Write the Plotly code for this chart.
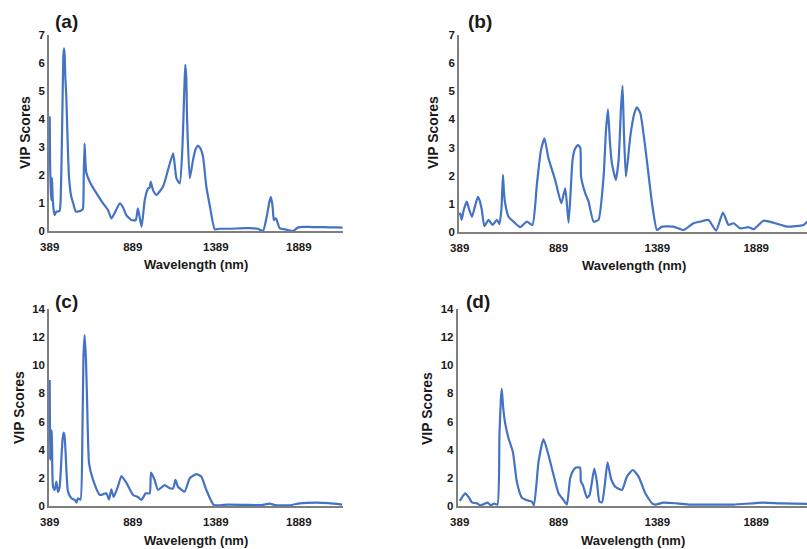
import plotly.graph_objects as go

# ---------------- data ----------------
wl_a = [389, 391, 393, 396, 399, 403, 406, 409, 413, 419, 429, 441, 449, 454, 460, 466, 471, 475,
        479, 483, 489, 497, 505, 519, 530, 546, 562, 580, 589, 594, 599, 604, 609, 630, 670, 710,
        740, 760, 785, 811, 830, 850, 881, 907, 920, 942, 961, 981, 991, 997, 1011, 1031, 1071,
        1101, 1132, 1152, 1172, 1188, 1199, 1205, 1211, 1216, 1232, 1252, 1266, 1281, 1296, 1312,
        1332, 1352, 1383, 1412, 1463, 1513, 1564, 1593, 1642, 1673, 1695, 1710, 1720, 1728, 1732,
        1738, 1746, 1754, 1773, 1814, 1854, 1882, 1914, 1968, 2019, 2070, 2120, 2152]
vip_a = [4.10, 2.60, 1.94, 1.40, 1.10, 1.90, 1.30, 1.00, 0.75, 0.57, 0.69, 0.70, 0.72, 1.00, 2.40,
         4.50, 6.20, 6.52, 6.30, 5.50, 4.80, 3.20, 1.94, 1.22, 1.00, 0.69, 0.70, 0.74, 0.80, 2.00,
         3.13, 2.50, 2.10, 1.76, 1.35, 0.99, 0.75, 0.45, 0.70, 0.99, 0.85, 0.57, 0.39, 0.39, 0.81,
         0.15, 1.10, 1.52, 1.55, 1.76, 1.46, 1.29, 1.58, 2.18, 2.77, 1.88, 1.70, 3.00, 5.00, 5.93,
         5.50, 4.00, 1.88, 2.54, 2.90, 3.04, 2.95, 2.65, 1.58, 0.93, 0.06, 0.08, 0.08, 0.09, 0.10,
         0.10, 0.08, 0.00, 0.50, 1.00, 1.22, 1.00, 0.80, 0.39, 0.45, 0.42, 0.10, 0.05, 0.00, 0.12,
         0.15, 0.14, 0.14, 0.13, 0.13, 0.12]

wl_b = [389, 392, 399, 410, 425, 437, 451, 466, 481, 491, 501, 514, 535, 555, 577, 590, 600, 608,
        613, 619, 636, 661, 695, 729, 757, 780, 800, 818, 838, 872, 903, 923, 940, 960, 972, 987,
        999, 1003, 1024, 1041, 1066, 1091, 1117, 1129, 1139, 1149, 1159, 1179, 1193, 1205, 1213,
        1220, 1230, 1252, 1272, 1286, 1303, 1328, 1362, 1387, 1412, 1471, 1521, 1572, 1606, 1648,
        1686, 1721, 1749, 1774, 1808, 1850, 1876, 1926, 1977, 2045, 2129, 2148]
vip_b = [0.60, 0.66, 0.43, 0.80, 1.08, 0.80, 0.54, 0.90, 1.25, 1.10, 0.78, 0.21, 0.43, 0.25, 0.43,
         0.28, 0.80, 2.03, 1.40, 1.02, 0.54, 0.37, 0.17, 0.37, 0.25, 1.73, 2.90, 3.33, 2.62, 1.85,
         1.02, 1.55, 0.33, 2.56, 2.95, 3.09, 3.00, 1.97, 1.38, 1.08, 0.37, 0.43, 1.97, 3.60, 4.36,
         3.20, 2.44, 1.85, 2.56, 4.40, 5.19, 3.50, 1.97, 3.39, 4.20, 4.43, 4.22, 3.00, 1.02, 0.07,
         0.19, 0.19, 0.07, 0.31, 0.37, 0.43, 0.05, 0.69, 0.25, 0.31, 0.13, 0.17, 0.10, 0.40, 0.33,
         0.19, 0.25, 0.37]

wl_c = [389, 390, 392, 395, 400, 405, 409, 419, 429, 439, 449, 460, 467, 473, 479, 485, 499, 520,
        540, 550, 559, 574, 586, 592, 599, 607, 614, 626, 650, 691, 730, 746, 760, 774, 800, 821,
        850, 891, 920, 941, 967, 991, 999, 1021, 1041, 1081, 1111, 1132, 1146, 1161, 1201, 1232,
        1272, 1302, 1332, 1377, 1462, 1563, 1664, 1713, 1746, 1834, 1895, 1995, 2069, 2149]
vip_c = [8.95, 6.50, 3.27, 5.40, 5.30, 2.50, 1.37, 1.14, 1.73, 1.00, 1.37, 3.50, 4.80, 5.21, 4.90,
         3.74, 1.02, 0.55, 0.43, 0.24, 0.55, 0.45, 5.17, 10.50, 12.15, 10.50, 7.53, 3.03, 1.85,
         0.78, 0.90, 0.45, 1.18, 0.64, 1.40, 2.13, 1.66, 0.78, 0.64, 0.43, 0.90, 0.90, 2.37, 1.85,
         1.14, 1.49, 1.26, 1.26, 1.85, 1.37, 1.02, 1.97, 2.27, 2.08, 1.14, 0.07, 0.10, 0.08, 0.06,
         0.17, 0.06, 0.05, 0.19, 0.24, 0.20, 0.10]

wl_d = [389, 405, 417, 433, 451, 476, 492, 509, 530, 547, 563, 580, 590, 597, 602, 609, 619, 636,
        658, 678, 704, 737, 754, 765, 788, 813, 838, 864, 889, 914, 931, 948, 965, 978, 998, 1002,
        1012, 1033, 1046, 1070, 1083, 1096, 1109, 1121, 1137, 1154, 1176, 1210, 1235, 1265, 1294,
        1328, 1362, 1378, 1420, 1488, 1556, 1690, 1774, 1926, 2019, 2148]
vip_d = [0.36, 0.70, 0.90, 0.66, 0.26, 0.19, 0.05, 0.12, 0.24, 0.05, 0.17, 0.10, 5.05, 7.50, 8.32,
         7.00, 5.88, 4.81, 3.86, 1.73, 0.59, 0.38, 0.31, 0.05, 3.15, 4.76, 3.62, 2.20, 0.90, 0.43,
         0.10, 1.97, 2.56, 2.73, 2.73, 1.73, 1.50, 0.59, 0.78, 2.65, 1.73, 0.31, 0.26, 1.25, 3.10,
         1.97, 1.37, 1.14, 2.09, 2.56, 2.09, 0.90, 0.19, 0.10, 0.24, 0.19, 0.10, 0.10, 0.10, 0.24,
         0.18, 0.15]

x_ticks = [389, 889, 1389, 1889]
y_ticks_top = [0, 1, 2, 3, 4, 5, 6, 7]
y_ticks_bottom = [0, 2, 4, 6, 8, 10, 12, 14]
panel_labels = ["(a)", "(b)", "(c)", "(d)"]
x_title = "Wavelength (nm)"
y_title = "VIP Scores"

# ---------------- figure ----------------
W, H = 807, 549
LINE = "#4472C4"
AXC = "#7f7f7f"
TXT = "#1a1a1a"
FONT = "Liberation Sans, Arial, sans-serif"

fig = go.Figure()
series = [(wl_a, vip_a), (wl_b, vip_b), (wl_c, vip_c), (wl_d, vip_d)]
for i, (x, y) in enumerate(series, start=1):
    fig.add_trace(go.Scatter(x=x, y=y, mode="lines",
                             line=dict(color=LINE, width=2.2, shape="spline", smoothing=0.5),
                             xaxis="x" if i == 1 else f"x{i}", yaxis="y" if i == 1 else f"y{i}",
                             showlegend=False, hoverinfo="skip"))

# layout geometry (pixels)
panels = [
    dict(x0=49, x1=343, ybot=231, ytop=35, xr=[384.8, 2154.6], yr=[0, 7], yt=y_ticks_top),
    dict(x0=459, x1=807, ybot=232, ytop=35, xr=[385.5, 2146], yr=[0, 7], yt=y_ticks_top),
    dict(x0=49, x1=343, ybot=506, ytop=309, xr=[384.8, 2154.6], yr=[0, 14], yt=y_ticks_bottom),
    dict(x0=457.5, x1=807, ybot=506, ytop=309, xr=[377.9, 2146], yr=[0, 14], yt=y_ticks_bottom),
]

layout = dict(width=W, height=H, margin=dict(l=0, r=0, t=0, b=0, autoexpand=False),
              paper_bgcolor="white", plot_bgcolor="white", font=dict(family=FONT, color=TXT))
tickfont = dict(family=FONT, size=11.5, color=TXT, weight="bold")
for i, p in enumerate(panels, start=1):
    xk = "xaxis" if i == 1 else f"xaxis{i}"
    yk = "yaxis" if i == 1 else f"yaxis{i}"
    xa = "x" if i == 1 else f"x{i}"
    ya = "y" if i == 1 else f"y{i}"
    layout[xk] = dict(domain=[p["x0"] / W, p["x1"] / W], anchor=ya, range=p["xr"], automargin=False,
                      tickmode="array", tickvals=x_ticks, ticktext=[str(t) for t in x_ticks],
                      showgrid=False, zeroline=False, showline=True, linecolor=AXC, linewidth=1.5,
                      ticks="", tickfont=tickfont, ticklabelstandoff=4)
    layout[yk] = dict(domain=[1 - p["ybot"] / H, 1 - p["ytop"] / H], anchor=xa, range=p["yr"],
                      automargin=False,
                      tickmode="array", tickvals=p["yt"], ticktext=[str(t) for t in p["yt"]],
                      showgrid=False, zeroline=False, showline=True, linecolor=AXC, linewidth=1.5,
                      ticks="", tickfont=tickfont, ticklabelstandoff=0)
fig.update_layout(**layout)

# texts: panel labels and axis titles
label_pos = [(66.5, 21.5), (480, 21), (66, 301), (478, 301)]
ytitle_pos = [(25, 133), (433, 133), (19, 408), (427, 408)]
xtitle_pos = [(196, 264.5), (634, 265.5), (196, 540), (633, 540)]
for i in range(4):
    lx, ly = label_pos[i]
    fig.add_annotation(x=lx / W, y=1 - ly / H, xref="paper", yref="paper", text=f"<b>{panel_labels[i]}</b>",
                       showarrow=False, font=dict(family=FONT, size=19, color=TXT),
                       xanchor="center", yanchor="middle")
    tx, ty = ytitle_pos[i]
    fig.add_annotation(x=tx / W, y=1 - ty / H, xref="paper", yref="paper", text=f"<b>{y_title}</b>",
                       showarrow=False, textangle=-90, font=dict(family=FONT, size=14, color=TXT),
                       xanchor="center", yanchor="middle")
    bx, by = xtitle_pos[i]
    fig.add_annotation(x=bx / W, y=1 - by / H, xref="paper", yref="paper", text=f"<b>{x_title}</b>",
                       showarrow=False, font=dict(family=FONT, size=13, color=TXT),
                       xanchor="center", yanchor="middle")

fig.write_html("out.html", config={"displayModeBar": False},
               post_script="document.body.style.margin='0';document.body.style.padding='0';")
